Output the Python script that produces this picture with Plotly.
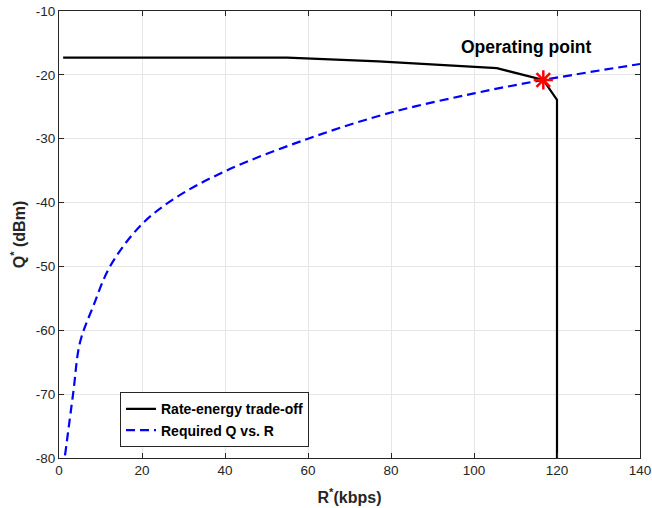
import plotly.graph_objects as go

# Rate-energy trade-off curve (black solid)
trade_r = [1, 20, 40, 55, 77, 95, 105.5, 116.7, 120, 120]
trade_q = [-17.3, -17.3, -17.3, -17.3, -17.9, -18.5, -18.95, -20.8, -23.9, -80]

# Required Q vs. R curve (blue dashed)
req_r = [1.45, 3.45, 5.06, 8.27, 12.3, 19.5, 27.5, 40, 60, 80, 100, 116.7, 140]
req_q = [-79.6, -69.7, -61.9, -56.2, -50.0, -43.7, -39.5, -35.1, -30.0, -25.9, -22.9, -20.8, -18.3]

# Operating point
op_r = [116.7]
op_q = [-20.8]

x_ticks = [0, 20, 40, 60, 80, 100, 120, 140]
y_ticks = [-80, -70, -60, -50, -40, -30, -20, -10]
y_tick_labels = ["-80", "-70", "-60", "-50", "-40", "-30", "-20", "-10"]

FONT = "Liberation Sans, Arial"

fig = go.Figure()
fig.add_trace(go.Scatter(x=trade_r, y=trade_q, mode="lines", name="<b>Rate-energy trade-off</b>",
                         line=dict(color="black", width=2.2)))
fig.add_trace(go.Scatter(x=req_r, y=req_q, mode="lines", name="<b>Required Q vs. R</b>",
                         line=dict(color="blue", width=2.2, dash="9px,5px", shape="spline")))
fig.add_trace(go.Scatter(x=op_r, y=op_q, mode="markers", showlegend=False,
                         marker=dict(symbol="asterisk", size=16, color="red",
                                     line=dict(color="red", width=2.5))))

fig.add_annotation(x=op_r[0], y=op_q[0], text="<b>Operating point</b>", showarrow=False,
                   xref="x", yref="y", xanchor="center", yanchor="bottom", yshift=21, xshift=-17,
                   font=dict(family=FONT, size=17.5, color="black"))

axis_common = dict(showgrid=True, gridcolor="#e6e6e6", gridwidth=1, zeroline=False,
                   showline=True, linecolor="#262626", linewidth=1, mirror="ticks",
                   ticks="inside", ticklen=5, tickcolor="#262626", automargin=False,
                   tickfont=dict(family=FONT, size=13.5, color="#262626"))

fig.update_xaxes(range=[0, 140], tickvals=x_ticks,
                 title=dict(text="<b>R</b><sup><b>*</b></sup><b>(kbps)</b>", standoff=14,
                            font=dict(family=FONT, size=16, color="#262626")),
                 **axis_common)
fig.update_yaxes(range=[-80, -10], tickvals=y_ticks, ticktext=y_tick_labels,
                 title=dict(text="<b>Q</b><sup><b>*</b></sup><b> (dBm)</b>", standoff=6,
                            font=dict(family=FONT, size=16, color="#262626")),
                 **axis_common)

fig.update_layout(
    width=652, height=508,
    margin=dict(l=59, r=12, t=11, b=50),
    plot_bgcolor="white", paper_bgcolor="white",
    legend=dict(x=0.105, y=0.024, xanchor="left", yanchor="bottom",
                bgcolor="white", bordercolor="#262626", borderwidth=1,
                font=dict(family=FONT, size=14, color="black"),
                tracegroupgap=0),
)

# remove the browser's default 8px body margin so the figure fills the window
fig.write_html("out.html", config={"displayModeBar": False},
               post_script="document.body.style.margin='0px';")
